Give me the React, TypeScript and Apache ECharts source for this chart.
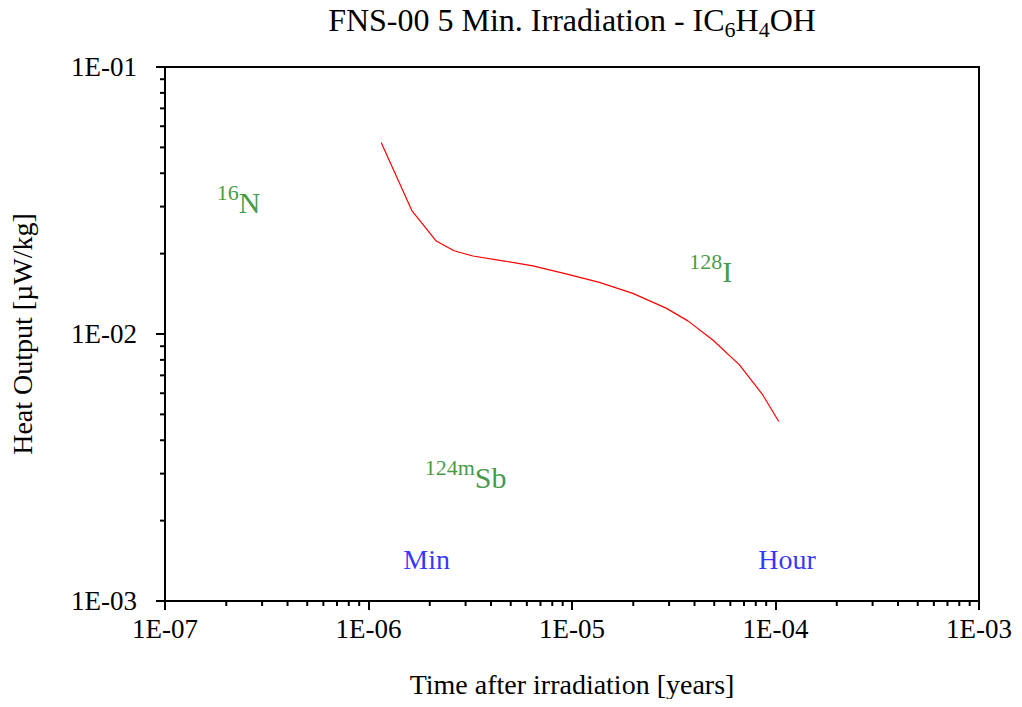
import React, { useEffect, useRef } from "react";
import * as echarts from "echarts";

// Decay heat curve (time after irradiation in years, heat output in µW/kg)
const timeYears = [
  1.154e-6, 1.633e-6, 2.153e-6, 2.63e-6, 3.26e-6, 4.57e-6, 6.42e-6, 9.35e-6,
  1.364e-5, 1.99e-5, 2.9e-5, 3.71e-5, 4.92e-5, 6.65e-5, 8.66e-5, 1.038e-4,
];
const heatOutput = [
  0.0522, 0.029, 0.0223, 0.0205, 0.0196, 0.0188, 0.018, 0.0168,
  0.0156, 0.0142, 0.0125, 0.0112, 0.0095, 0.00766, 0.00591, 0.0047,
];

// Nuclide annotations
const nuclideMass = ["16", "128", "124m"];
const nuclideName = ["N", "I", "Sb"];
const nuclideTime = [2.3e-7, 4.8e-5, 3.0e-6];
const nuclideHeat = [0.0318, 0.0176, 0.00297];

// Time markers
const markerNames = ["Min", "Hour"];
const markerTime = [1.93e-6, 1.14e-4];
const markerHeat = [0.00143, 0.00143];

// Axis ranges
const xMin = 1e-7;
const xMax = 1e-3;
const yMin = 1e-3;
const yMax = 1e-1;

const FONT = '"Liberation Serif", "Times New Roman", serif';
const GREEN = "#138013";

function minorTicks(lo: number, hi: number): number[] {
  const out: number[] = [];
  for (let d = lo; d < hi * 0.999; d *= 10) {
    for (let k = 2; k <= 9; k++) out.push(d * k);
  }
  return out;
}

function fmtExp(v: number): string {
  const e = Math.round(Math.log10(v));
  const s = e < 0 ? "-" : "+";
  return "1E" + s + String(Math.abs(e)).padStart(2, "0");
}

export default function App() {
  const ref = useRef<HTMLDivElement>(null);
  useEffect(() => {
    if (!ref.current) return;
    const chart = echarts.init(ref.current, undefined, { renderer: "svg" });
    const xMinor = minorTicks(xMin, xMax);
    const yMinor = minorTicks(yMin, yMax);

    chart.setOption({
      animation: false,
      backgroundColor: "#fff",
      textStyle: { fontFamily: FONT },
      grid: {
        left: 165,
        top: 67,
        width: 814,
        height: 534,
        show: true,
        borderColor: "#000",
        borderWidth: 2,
        backgroundColor: "transparent",
      },
      graphic: [
        {
          type: "text",
          x: 572,
          y: 22,
          style: {
            text: "{m|FNS-00 5 Min. Irradiation - IC}{s|6}{m|H}{s|4}{m|OH}",
            align: "center",
            verticalAlign: "middle",
            rich: {
              m: { fontFamily: FONT, fontSize: 32, fill: "#000", verticalAlign: "top" },
              s: { fontFamily: FONT, fontSize: 22, fill: "#000", verticalAlign: "top", padding: [15, 0, 0, 0] },
            },
          },
        },
      ],
      xAxis: {
        type: "log",
        logBase: 10,
        min: xMin,
        max: xMax,
        name: "Time after irradiation [years]",
        nameLocation: "middle",
        nameGap: 69,
        nameTextStyle: { fontFamily: FONT, fontSize: 28, color: "#000" },
        axisLine: { show: true, lineStyle: { color: "#000", width: 2 } },
        axisTick: { show: true, inside: false, length: 9, lineStyle: { color: "#000", width: 2 } },
        axisLabel: {
          fontFamily: FONT,
          fontSize: 27,
          color: "#000",
          margin: 14,
          formatter: (v: number) => fmtExp(v),
        },
        splitLine: { show: false },
      },
      yAxis: {
        type: "log",
        logBase: 10,
        min: yMin,
        max: yMax,
        name: "Heat Output [µW/kg]",
        nameLocation: "middle",
        nameGap: 129,
        nameTextStyle: { fontFamily: FONT, fontSize: 28, color: "#000" },
        axisLine: { show: true, lineStyle: { color: "#000", width: 2 } },
        axisTick: { show: true, inside: false, length: 9, lineStyle: { color: "#000", width: 2 } },
        axisLabel: {
          fontFamily: FONT,
          fontSize: 27,
          color: "#000",
          margin: 28,
          formatter: (v: number) => fmtExp(v),
        },
        splitLine: { show: false },
      },
      series: [
        {
          type: "line",
          data: timeYears.map((t, i) => [t, heatOutput[i]]),
          showSymbol: false,
          symbol: "none",
          lineStyle: { color: "#ff0000", width: 1.2 },
          z: 3,
        },
        {
          type: "custom",
          clip: false,
          silent: true,
          data: xMinor.map((v) => [v, yMin]),
          renderItem: (params: any, api: any) => {
            const p = api.coord([api.value(0), yMin]);
            return {
              type: "line",
              shape: { x1: p[0], y1: p[1], x2: p[0], y2: p[1] + 5 },
              style: { stroke: "#000", lineWidth: 2 },
            };
          },
          z: 4,
        },
        {
          type: "custom",
          clip: false,
          silent: true,
          data: yMinor.map((v) => [xMin, v]),
          renderItem: (params: any, api: any) => {
            const p = api.coord([xMin, api.value(1)]);
            return {
              type: "line",
              shape: { x1: p[0], y1: p[1], x2: p[0] - 5, y2: p[1] },
              style: { stroke: "#000", lineWidth: 2 },
            };
          },
          z: 4,
        },
        {
          type: "scatter",
          symbolSize: 0,
          silent: true,
          data: nuclideTime.map((t, i) => [t, nuclideHeat[i]]),
          label: {
            show: true,
            position: "inside",
            formatter: (p: any) => `{sup|${nuclideMass[p.dataIndex]}}{main|${nuclideName[p.dataIndex]}}`,
            rich: {
              sup: { fontFamily: FONT, fontSize: 22, color: GREEN, verticalAlign: "bottom", padding: [0, 0, 14, 0] },
              main: { fontFamily: FONT, fontSize: 30, color: GREEN, verticalAlign: "bottom" },
            },
          },
          z: 5,
        },
        {
          type: "scatter",
          symbolSize: 0,
          silent: true,
          data: markerTime.map((t, i) => [t, markerHeat[i]]),
          label: {
            show: true,
            position: "inside",
            formatter: (p: any) => markerNames[p.dataIndex],
            fontFamily: FONT,
            fontSize: 28,
            color: "#0000ff",
          },
          z: 5,
        },
      ],
    });
    return () => chart.dispose();
  }, []);
  return <div ref={ref} style={{ width: 1022, height: 707, margin: -8 }} />;
}
